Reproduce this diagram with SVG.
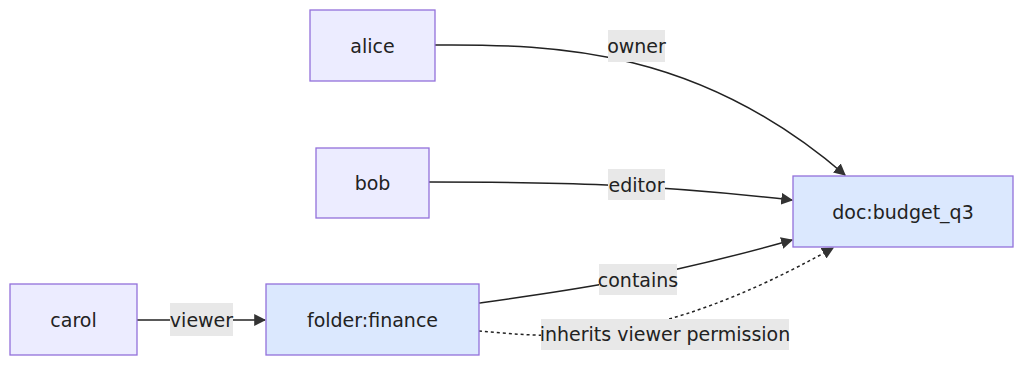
<svg xmlns="http://www.w3.org/2000/svg" width="1024" height="366" viewBox="0 0 1024 366">
<style>
.n rect{fill:#ECECFF;stroke:#9370DB;stroke-width:1.3}
.r rect{fill:#DBE8FE;stroke:#9370DB;stroke-width:1.3}
text{font-family:"DejaVu Sans",Verdana,sans-serif;font-size:19px;fill:#222;text-anchor:middle;dominant-baseline:central}
.e{fill:none;stroke:#222;stroke-width:1.5}
.d{stroke-dasharray:3 3;stroke-width:1.5}
.lb{fill:#E8E8E8}
</style>
<defs>
<marker id="ah" viewBox="0 0 10 10" refX="9" refY="5" markerWidth="12" markerHeight="12" markerUnits="userSpaceOnUse" orient="auto"><path d="M0,0L10,5L0,10z" fill="#333"/></marker>
</defs>
<rect width="1024" height="366" fill="#fff"/>
<g id="connectors">
<path class="e" d="M435,45 C560,44 700,50 845,175" marker-end="url(#ah)"/>
<path class="e" d="M429,182 C560,182 650,184 792,200" marker-end="url(#ah)"/>
<path class="e" d="M479,303 C560,292 650,280 792,240" marker-end="url(#ah)"/>
<path class="e" d="M137,320 L265,320" marker-end="url(#ah)"/>
<path class="e d" d="M479,331 C560,338 650,350 833,248" marker-end="url(#ah)"/>
<rect class="lb" x="608" y="30" width="57" height="32"/><text x="636.5" y="46">owner</text>
<rect class="lb" x="608" y="169" width="57" height="31"/><text x="636.5" y="185">editor</text>
<rect class="lb" x="599" y="264" width="78" height="31"/><text x="638" y="280">contains</text>
<rect class="lb" x="170" y="303" width="63" height="33"/><text x="201.5" y="320">viewer</text>
<rect class="lb" x="541" y="319" width="248" height="31"/><text x="665" y="334">inherits viewer permission</text>
</g>
<g id="alice" class="n"><rect x="310" y="10" width="125" height="71"/><text x="372.5" y="45.5">alice</text></g>
<g id="bob" class="n"><rect x="316" y="148" width="113" height="70"/><text x="372.5" y="183">bob</text></g>
<g id="carol" class="n"><rect x="10" y="284" width="127" height="71"/><text x="73.5" y="319.5">carol</text></g>
<g id="folder_finance" class="r"><rect x="266" y="284" width="213" height="71"/><text x="372.5" y="319.5">folder:finance</text></g>
<g id="doc_budget_q3" class="r"><rect x="793" y="176" width="220" height="71"/><text x="903" y="211.5">doc:budget_q3</text></g>
</svg>
